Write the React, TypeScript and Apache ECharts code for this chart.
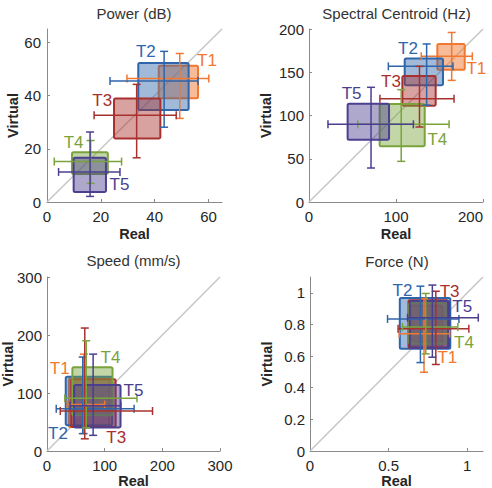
import React, { useEffect, useRef } from 'react';
import * as echarts from 'echarts';

const FONT = 'Liberation Sans, Arial, Helvetica, sans-serif';

const TRIALS = ['T1', 'T2', 'T3', 'T4', 'T5'];
const STROKES = ['#F07830', '#2F65AA', '#A8302E', '#7AA33C', '#4B3F8F'];
const FILLS = [
  'rgba(240,120,48,0.50)',
  'rgba(47,101,170,0.45)',
  'rgba(168,48,46,0.45)',
  'rgba(122,163,60,0.45)',
  'rgba(75,63,143,0.45)',
];

// boxes: [realLow, realHigh, virtualLow, virtualHigh]
// bars:  [realCenter, virtualCenter, realLow, realHigh, virtualLow, virtualHigh]
// tags:  [real, virtual] where each trial name sits

const powerBoxes = [
  [41.5, 56.1, 39.0, 51.2],
  [33.9, 52.6, 34.6, 52.2],
  [24.9, 42.1, 23.9, 38.9],
  [9.3, 22.6, 10.5, 18.7],
  [9.9, 21.9, 3.8, 16.6],
];
const powerBars = [
  [49.3, 46.4, 29.7, 60.1, 31.4, 55.8],
  [43.5, 45.5, 23.4, 56.1, 28.1, 56.6],
  [33.3, 32.6, 17.5, 48.0, 16.6, 44.2],
  [16.2, 15.2, 2.7, 27.7, 7.0, 23.1],
  [16.0, 11.3, 4.3, 27.1, 2.1, 26.3],
];
const powerTags = [[59.4, 53.1], [36.7, 56.5], [20.5, 38.0], [9.9, 22.3], [26.9, 6.5]];

const centroidBoxes = [
  [147.5, 179.0, 153.0, 182.7],
  [110.0, 154.0, 134.9, 166.0],
  [107.3, 145.6, 111.4, 145.7],
  [81.2, 133.0, 64.4, 113.3],
  [44.4, 92.0, 72.0, 113.7],
];
const centroidBars = [
  [164.0, 168.4, 129.0, 187.7, 140.6, 196.0],
  [135.2, 156.8, 91.2, 165.5, 112.0, 182.7],
  [127.0, 119.5, 81.5, 166.7, 86.7, 156.8],
  [106.0, 89.8, 56.0, 161.0, 47.0, 129.9],
  [71.3, 89.8, 21.8, 120.0, 39.3, 132.6],
];
const centroidTags = [[192.3, 154.1], [113.8, 177.3], [94.3, 139.5], [147.5, 72.8], [49.0, 126.0]];

const speedBoxes = [
  [38.0, 108.0, 41.5, 125.0],
  [32.5, 113.0, 44.5, 128.0],
  [42.0, 119.0, 41.5, 123.5],
  [44.0, 113.6, 61.8, 144.3],
  [47.0, 127.5, 40.5, 113.7],
];
const speedBars = [
  [64.0, 80.0, 35.0, 100.0, 30.0, 167.0],
  [62.0, 73.0, 16.0, 151.0, 30.0, 162.0],
  [65.5, 69.0, 23.0, 183.0, 21.0, 212.0],
  [68.0, 91.0, 31.0, 156.0, 40.0, 190.0],
  [80.0, 78.0, 40.0, 128.0, 27.0, 167.0],
];
const speedTags = [[22.0, 143.0], [19.0, 30.0], [120.0, 23.0], [110.0, 162.0], [150.0, 104.0]];

const forceBoxes = [
  [0.64, 0.841, 0.657, 0.92],
  [0.571, 0.892, 0.646, 0.968],
  [0.626, 0.877, 0.653, 0.953],
  [0.63, 0.863, 0.678, 0.936],
  [0.634, 0.884, 0.653, 0.949],
];
const forceBars = [
  [0.725, 0.742, 0.567, 0.888, 0.498, 0.964],
  [0.702, 0.835, 0.493, 0.947, 0.559, 1.042],
  [0.8, 0.773, 0.56, 1.01, 0.547, 1.01],
  [0.736, 0.784, 0.588, 0.94, 0.614, 0.996],
  [0.778, 0.843, 0.62, 1.07, 0.593, 1.049],
];
const forceTags = [[0.873, 0.589], [0.588, 1.017], [0.888, 1.01], [0.979, 0.689], [0.968, 0.911]];

const powerTicks = [0, 20, 40, 60];
const centroidXTicks = [0, 100, 200];
const centroidYTicks = [0, 50, 100, 150, 200];
const speedTicks = [0, 100, 200, 300];
const forceXTicks = [0, 0.5, 1];
const forceYTicks = [0, 0.2, 0.4, 0.6, 0.8, 1];

const PANELS = [
  {
    title: 'Power (dB)', max: 65, xStep: 20, yStep: 20, xTicks: powerTicks, yTicks: powerTicks,
    boxes: powerBoxes, bars: powerBars, tags: powerTags,
    grid: { left: 47, top: 29, width: 175, height: 173 }, titleAt: [134, 13],
    yGap: 27, yMargin: 6, xGap: 24, rightAlignLast: false,
  },
  {
    title: 'Spectral Centroid (Hz)', max: 200, xStep: 100, yStep: 50, xTicks: centroidXTicks, yTicks: centroidYTicks,
    boxes: centroidBoxes, bars: centroidBars, tags: centroidTags,
    grid: { left: 309, top: 29, width: 174, height: 173 }, titleAt: [396.5, 13],
    yGap: 36, yMargin: 5, xGap: 24, rightAlignLast: true,
  },
  {
    title: 'Speed (mm/s)', max: 300, xStep: 100, yStep: 100, xTicks: speedTicks, yTicks: speedTicks,
    boxes: speedBoxes, bars: speedBars, tags: speedTags,
    grid: { left: 47, top: 277, width: 173, height: 174 }, titleAt: [133.5, 260],
    yGap: 32, yMargin: 5, xGap: 22, rightAlignLast: false,
  },
  {
    title: 'Force (N)', max: 1.1, xStep: 0.5, yStep: 0.2, xTicks: forceXTicks, yTicks: forceYTicks,
    boxes: forceBoxes, bars: forceBars, tags: forceTags,
    grid: { left: 310, top: 277, width: 173, height: 174 }, titleAt: [397, 261],
    yGap: 36, yMargin: 5, xGap: 22, rightAlignLast: false,
  },
];

const AXIS_GRAY = '#8a8a8a';
const TEXT = '#262626';

function axisCommon(ticks: number[], margin: number) {
  return {
    type: 'value' as const,
    min: 0,
    splitLine: { show: false },
    axisLine: { show: true, onZero: false, lineStyle: { color: AXIS_GRAY, width: 1 } },
    axisTick: { show: true, inside: true, length: 3, customValues: ticks, lineStyle: { color: AXIS_GRAY } },
    axisLabel: { customValues: ticks, color: TEXT, fontSize: 15, fontFamily: FONT, margin },
    nameLocation: 'middle' as const,
    nameMoveOverlap: false,
    nameTextStyle: { color: TEXT, fontSize: 14.5, fontWeight: 'bold' as const, fontFamily: FONT },
  };
}

function boxRenderer(params: any, api: any) {
  const k = api.value(4);
  const a = api.coord([api.value(0), api.value(3)]);
  const b = api.coord([api.value(1), api.value(2)]);
  return {
    type: 'rect',
    shape: { x: a[0], y: a[1], width: b[0] - a[0], height: b[1] - a[1], r: 1.5 },
    style: { fill: FILLS[k], stroke: STROKES[k], lineWidth: 2, lineJoin: 'round' },
  };
}

function barRenderer(params: any, api: any) {
  const k = api.value(6);
  const cx = api.value(0);
  const cy = api.value(1);
  const left = api.coord([api.value(2), cy]);
  const right = api.coord([api.value(3), cy]);
  const low = api.coord([cx, api.value(4)]);
  const high = api.coord([cx, api.value(5)]);
  const cap = 4;
  const style = { stroke: STROKES[k], lineWidth: 1.5, fill: null };
  const seg = (x1: number, y1: number, x2: number, y2: number) => ({
    type: 'line', shape: { x1, y1, x2, y2 }, style,
  });
  return {
    type: 'group',
    children: [
      seg(left[0], left[1], right[0], right[1]),
      seg(low[0], low[1], high[0], high[1]),
      seg(left[0], left[1] - cap, left[0], left[1] + cap),
      seg(right[0], right[1] - cap, right[0], right[1] + cap),
      seg(low[0] - cap, low[1], low[0] + cap, low[1]),
      seg(high[0] - cap, high[1], high[0] + cap, high[1]),
    ],
  };
}

function tagRenderer(params: any, api: any) {
  const k = api.value(2);
  const p = api.coord([api.value(0), api.value(1)]);
  return {
    type: 'text',
    x: p[0],
    y: p[1],
    style: {
      text: TRIALS[k], fill: STROKES[k], fontSize: 17, fontFamily: FONT,
      align: 'center', verticalAlign: 'middle',
    },
  };
}

function buildOption() {
  const series: any[] = [];
  PANELS.forEach((p, i) => {
    series.push({
      type: 'line', xAxisIndex: i, yAxisIndex: i, silent: true, symbol: 'none',
      data: [[0, 0], [p.max, p.max]],
      lineStyle: { color: '#c8c8c8', width: 1.6 },
      z: 1,
    });
    series.push({
      type: 'custom', xAxisIndex: i, yAxisIndex: i, silent: true, clip: false,
      data: p.boxes.map((b, k) => [...b, k]),
      renderItem: boxRenderer, z: 2,
    });
    series.push({
      type: 'custom', xAxisIndex: i, yAxisIndex: i, silent: true, clip: false,
      data: p.bars.map((b, k) => [...b, k]),
      renderItem: barRenderer, z: 3,
    });
    series.push({
      type: 'custom', xAxisIndex: i, yAxisIndex: i, silent: true, clip: false,
      data: p.tags.map((t, k) => [...t, k]),
      renderItem: tagRenderer, z: 4,
    });
  });

  return {
    animation: false,
    backgroundColor: '#ffffff',
    grid: PANELS.map((p) => ({ ...p.grid, containLabel: false, outerBoundsMode: 'none' })),
    xAxis: PANELS.map((p, i) => {
      const base = axisCommon(p.xTicks, 7);
      return {
        ...base,
        axisLabel: { ...base.axisLabel, ...(p.rightAlignLast ? { alignMaxLabel: 'right' } : {}) },
        gridIndex: i, max: p.max, interval: p.xStep,
        name: 'Real', nameGap: p.xGap,
      };
    }),
    yAxis: PANELS.map((p, i) => ({
      ...axisCommon(p.yTicks, p.yMargin),
      gridIndex: i, max: p.max, interval: p.yStep,
      name: 'Virtual', nameGap: p.yGap, nameRotate: 90,
    })),
    graphic: PANELS.map((p) => ({
      type: 'text', x: p.titleAt[0], y: p.titleAt[1], silent: true,
      style: {
        text: p.title, fill: '#333333', fontSize: 15, fontFamily: FONT,
        align: 'center', verticalAlign: 'middle', textAlign: 'center', textVerticalAlign: 'middle',
      },
    })),
    series,
  };
}

export default function App() {
  const ref = useRef<HTMLDivElement>(null);
  useEffect(() => {
    if (!ref.current) return;
    const chart = echarts.init(ref.current, null, { renderer: 'svg' });
    chart.setOption(buildOption() as any);
    return () => chart.dispose();
  }, []);
  return (
    <div
      ref={ref}
      style={{ position: 'fixed', left: 0, top: 0, width: 492, height: 488, background: '#fff' }}
    />
  );
}
